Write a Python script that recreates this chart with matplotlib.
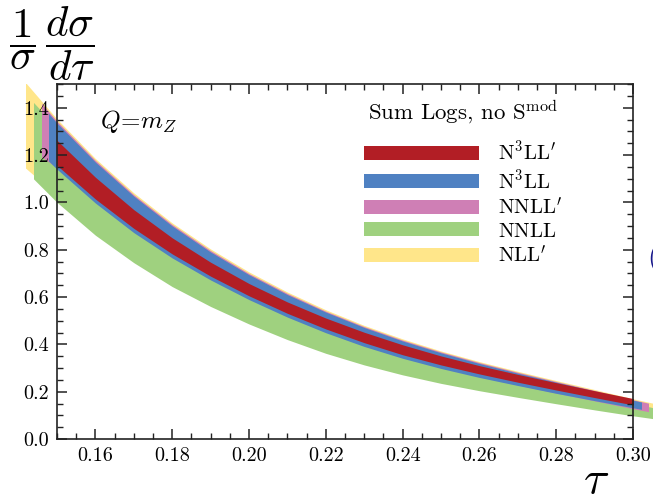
import matplotlib
matplotlib.use("Agg")
import matplotlib.pyplot as plt
from matplotlib.patches import Rectangle, Patch

plt.rcParams['font.family'] = 'serif'
plt.rcParams['font.serif'] = ['cmr10']
plt.rcParams['mathtext.fontset'] = 'cm'
plt.rcParams['axes.formatter.use_mathtext'] = True

tau = [0.14, 0.15, 0.16, 0.17, 0.18, 0.19, 0.20, 0.21, 0.22,
       0.23, 0.24, 0.25, 0.26, 0.27, 0.28, 0.29, 0.30, 0.31]

# upper / lower edges of each uncertainty band
n3llp_hi = [1.442, 1.262, 1.106, 0.969, 0.850, 0.747, 0.657, 0.579, 0.511,
            0.451, 0.398, 0.351, 0.310, 0.273, 0.238, 0.204, 0.171, 0.138]
n3llp_lo = [1.318, 1.156, 1.014, 0.890, 0.782, 0.688, 0.605, 0.531, 0.465,
            0.407, 0.356, 0.313, 0.275, 0.240, 0.207, 0.175, 0.144, 0.114]
n3ll_hi = [1.520, 1.335, 1.170, 1.026, 0.900, 0.790, 0.694, 0.610, 0.536,
           0.471, 0.414, 0.364, 0.319, 0.278, 0.240, 0.202, 0.164, 0.128]
n3ll_lo = [1.298, 1.140, 0.997, 0.872, 0.765, 0.672, 0.589, 0.515, 0.449,
           0.391, 0.341, 0.298, 0.260, 0.226, 0.193, 0.162, 0.132, 0.102]
nnllp_hi = [1.530, 1.343, 1.177, 1.032, 0.906, 0.796, 0.699, 0.615, 0.540,
            0.475, 0.418, 0.368, 0.323, 0.282, 0.243, 0.205, 0.166, 0.130]
nnllp_lo = [1.260, 1.146, 1.000, 0.875, 0.768, 0.675, 0.592, 0.518, 0.452,
            0.394, 0.344, 0.301, 0.263, 0.228, 0.194, 0.161, 0.128, 0.097]
nnll_hi = [1.490, 1.315, 1.155, 1.013, 0.889, 0.781, 0.686, 0.603, 0.530,
           0.466, 0.409, 0.359, 0.314, 0.273, 0.235, 0.197, 0.152, 0.114]
nnll_lo = [1.162, 1.000, 0.861, 0.745, 0.644, 0.560, 0.486, 0.420, 0.362,
           0.313, 0.271, 0.235, 0.204, 0.176, 0.149, 0.123, 0.098, 0.075]
nllp_hi = [1.540, 1.352, 1.185, 1.040, 0.913, 0.803, 0.706, 0.621, 0.546,
           0.480, 0.423, 0.372, 0.327, 0.286, 0.247, 0.209, 0.170, 0.134]
nllp_lo = [1.170, 1.030, 0.890, 0.772, 0.669, 0.583, 0.508, 0.440, 0.380,
           0.330, 0.286, 0.249, 0.217, 0.188, 0.160, 0.133, 0.107, 0.083]

labels = [r"$\mathrm{N^3LL}'$", r"$\mathrm{N^3LL}$", r"$\mathrm{NNLL}'$",
          r"$\mathrm{NNLL}$", r"$\mathrm{NLL}'$"]
colors = ['#B21E25', '#4F81C2', '#CF7FB5', '#9FD17F', '#FFE68A']
# tau range covered by each band (they spill out of the frame)
tau_start = [0.150, 0.148, 0.146, 0.144, 0.142]
tau_end = [0.300, 0.302, 0.304, 0.306, 0.308]

bands = [(n3llp_lo, n3llp_hi), (n3ll_lo, n3ll_hi), (nnllp_lo, nnllp_hi),
         (nnll_lo, nnll_hi), (nllp_lo, nllp_hi)]

fig = plt.figure(figsize=(6.53, 4.94), dpi=100)
ax = fig.add_axes([57/653, 55/494, 576/653, 355/494])

# lowest order first so N3LL' ends up on top
for i in reversed(range(len(bands))):
    lo, hi = bands[i]
    poly = ax.fill_between(tau, lo, hi, color=colors[i], lw=0)
    poly.set_clip_path(Rectangle((tau_start[i], 0), tau_end[i] - tau_start[i], 1.5,
                                 transform=ax.transData))

ax.set_xlim(0.15, 0.30)
ax.set_ylim(0, 1.5)
ax.set_xticks([0.16, 0.18, 0.20, 0.22, 0.24, 0.26, 0.28, 0.30])
ax.set_xticks([0.15 + 0.005*k for k in range(31)], minor=True)
ax.set_yticks([0.0, 0.2, 0.4, 0.6, 0.8, 1.0, 1.2, 1.4])
ax.set_yticks([0.05*k for k in range(31)], minor=True)
ax.xaxis.set_major_formatter(matplotlib.ticker.FormatStrFormatter('%.2f'))
ax.yaxis.set_major_formatter(matplotlib.ticker.FormatStrFormatter('%.1f'))
ax.tick_params(which='both', direction='in', top=True, right=True,
               labelsize=14.5, color='#222222', pad=6)
ax.tick_params(which='major', length=7, width=1.1)
ax.tick_params(which='minor', length=4, width=1.0)
for s in ax.spines.values():
    s.set_linewidth(1.2)
    s.set_color('#222222')

ax.text(0.075, 0.895, r"$Q\!=\!m_Z$", transform=ax.transAxes, fontsize=18,
        va='center', ha='left')

handles = [Patch(facecolor=c, edgecolor='none') for c in colors]
leg = ax.legend(handles, labels, title=r"Sum Logs, no $\mathrm{S}^{\mathrm{mod}}$",
                loc='upper center', bbox_to_anchor=(0.705, 0.99), frameon=False,
                fontsize=15, title_fontsize=16.5, handlelength=5.5,
                handleheight=0.65, handletextpad=0.9, labelspacing=0.2,
                borderpad=0)
leg._legend_box.sep = 10

fig.text(9/653, 1 - 44/494, r"$\dfrac{1}{\sigma}\,\dfrac{d\sigma}{d\tau}$",
         fontsize=31, ha='left', va='center')
fig.text(596/653, 1 - 460/494, r"$\tau$", fontsize=34, ha='center', va='top')
fig.text(647/653, 1 - 258/494, "(", fontsize=20, color='#1a1a8c',
         ha='left', va='center')

fig.savefig('out.png', dpi=100)
